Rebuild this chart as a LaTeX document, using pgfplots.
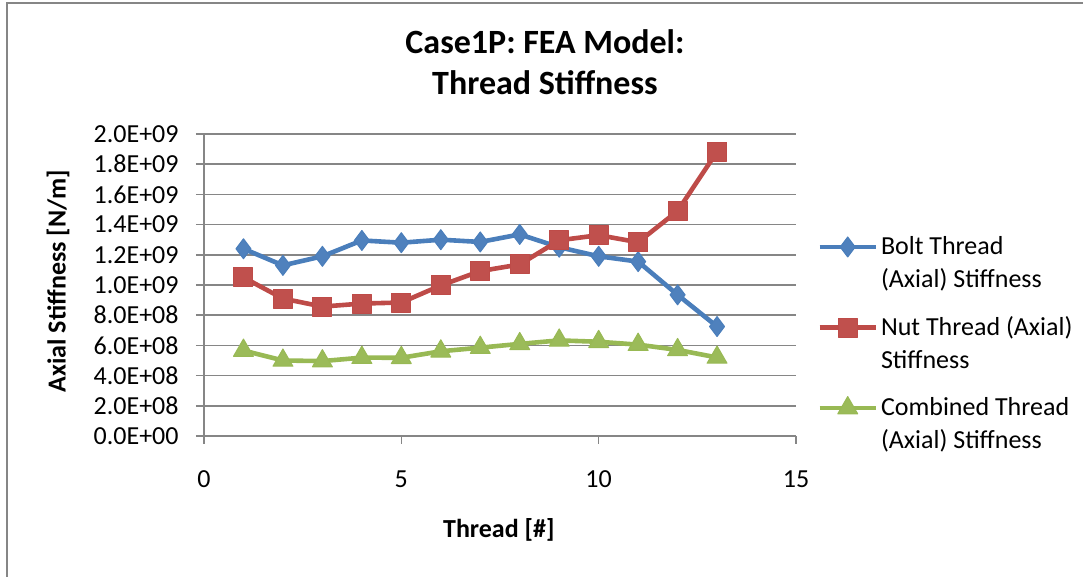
\documentclass[border=0pt]{standalone}
\usepackage{fontspec}
\setmainfont{Carlito}
\usepackage{pgfplots}
\pgfplotsset{compat=1.18}
\definecolor{cBlue}{HTML}{4A7EBB}
\definecolor{cBlueF}{HTML}{4F81BD}
\definecolor{cRed}{HTML}{BE4B48}
\definecolor{cRedF}{HTML}{C0504D}
\definecolor{cGreen}{HTML}{98B954}
\definecolor{cGreenF}{HTML}{9BBB59}
\definecolor{gridgray}{HTML}{868686}
\begin{document}
\begin{tikzpicture}
\path[use as bounding box] (0,0) rectangle (541.5pt,288.5pt);
\draw[gridgray, line width=1pt] (3.5pt,0) -- (3.5pt,287pt) -- (541.5pt,287pt);
\begin{axis}[
  at={(102pt,70.5pt)}, anchor=south west,
  scale only axis, width=296pt, height=151pt,
  xmin=0, xmax=15, ymin=0, ymax=2e9,
  axis lines=left, axis line style={-, gridgray, line width=0.75pt},
  tick align=outside, major tick length=4pt,
  tick style={gridgray, line width=0.75pt},
  xtick={0,5,10,15},
  ytick={0,2e8,4e8,6e8,8e8,1e9,1.2e9,1.4e9,1.6e9,1.8e9,2e9},
  yticklabels={0.0E+00,2.0E+08,4.0E+08,6.0E+08,8.0E+08,1.0E+09,1.2E+09,1.4E+09,1.6E+09,1.8E+09,2.0E+09},
  scaled y ticks=false,
  /pgf/number format/assume math mode=true,
  ymajorgrids, grid style={gridgray, line width=0.75pt},
  tick label style={font=\fontsize{13}{15}\selectfont},
  yticklabel style={inner sep=0pt, anchor=east, xshift=-8.5pt},
  xticklabel style={inner sep=0pt, anchor=north, yshift=-13pt},
  title={Case1P: FEA Model:\\Thread Stiffness},
  title style={at={(0.576,1)}, anchor=south, inner sep=0pt, yshift=13.5pt, align=center, font=\fontsize{17}{20.5}\selectfont\bfseries},
  xlabel={Thread [\#]},
  xlabel style={at={(axis description cs:0.498,-0.311)}, anchor=center, font=\fontsize{13}{15}\selectfont\bfseries},
  ylabel={Axial Stiffness [N/m]},
  ylabel style={at={(axis description cs:-0.2466,0.513)}, anchor=center, font=\fontsize{13}{15}\selectfont\bfseries},
  legend style={at={(1.0355,0.672)}, anchor=north west, draw=none, fill=none, row sep=10pt, inner sep=0pt,
    nodes={inner sep=1.5pt}, cells={anchor=west, align=left}, font=\fontsize{13}{16.5}\selectfont},
  legend image code/.code={\draw[mark repeat=2,mark phase=2,#1] plot coordinates {(0pt,8.25pt)(14pt,8.25pt)(28pt,8.25pt)};},
  every axis plot/.append style={line width=2.3pt, line join=round},
]
\addplot[cBlue, mark=diamond*, mark size=5pt, mark options={fill=cBlueF, draw=cBlue, line width=0.5pt}] coordinates {
(1,1.24e9)(2,1.13e9)(3,1.19e9)(4,1.295e9)(5,1.28e9)(6,1.30e9)(7,1.285e9)(8,1.335e9)(9,1.25e9)(10,1.19e9)(11,1.155e9)(12,0.935e9)(13,0.725e9)};
\addlegendentry{Bolt Thread\\(Axial) Stiffness}
\addplot[cRed, mark=square*, mark size=4.75pt, mark options={fill=cRedF, draw=cRed, line width=0.5pt}] coordinates {
(1,1.05e9)(2,0.91e9)(3,0.857e9)(4,0.877e9)(5,0.884e9)(6,0.997e9)(7,1.092e9)(8,1.136e9)(9,1.296e9)(10,1.33e9)(11,1.283e9)(12,1.49e9)(13,1.883e9)};
\addlegendentry{Nut Thread (Axial)\\Stiffness}
\addplot[cGreen, mark=triangle*, mark size=5.75pt, mark options={fill=cGreenF, draw=cGreen, line width=0.5pt}] coordinates {
(1,0.566e9)(2,0.500e9)(3,0.496e9)(4,0.519e9)(5,0.518e9)(6,0.561e9)(7,0.585e9)(8,0.610e9)(9,0.633e9)(10,0.624e9)(11,0.605e9)(12,0.570e9)(13,0.520e9)};
\addlegendentry{Combined Thread\\(Axial) Stiffness}
\end{axis}
\end{tikzpicture}
\end{document}
